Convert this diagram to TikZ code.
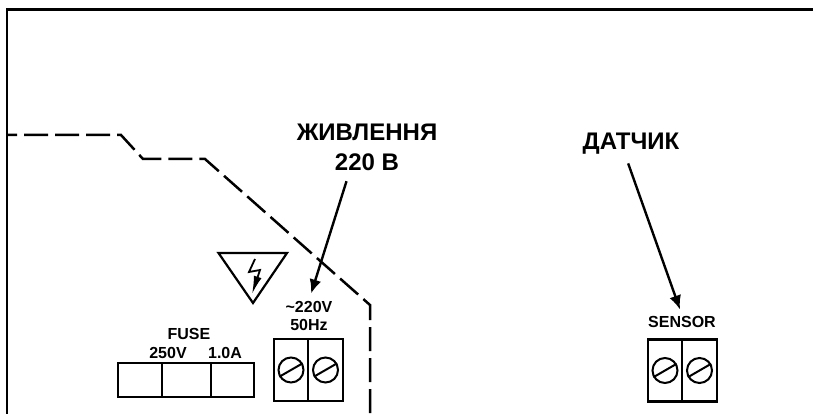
\documentclass[tikz,border=0pt]{standalone}
\usepackage{fontspec}
\setmainfont{Liberation Sans}
\usetikzlibrary{arrows.meta}
\begin{document}
\begin{tikzpicture}[x=1pt,y=-1pt,
  label node/.style={font=\bfseries\fontsize{24}{26}\selectfont,inner sep=1pt,align=center},
  small node/.style={font=\bfseries\fontsize{16}{18}\selectfont,inner sep=1pt,align=center},
  fuse cell/.style={rectangle,draw,line width=2pt,minimum height=34pt,inner sep=0pt},
  clamp cell/.style={rectangle,draw,line width=2.4pt,minimum width=34.5pt,minimum height=62pt,inner sep=0pt},
  screw node/.style={circle,draw,line width=2pt,minimum size=25pt,inner sep=0pt},
  pointer/.style={-{Latex[length=14pt,width=12pt]},line width=2.4pt}]
\useasboundingbox (0,0) rectangle (813,414);
\draw [line width=2.8pt] (813,9.5) -- (7,9.5) -- (7,414);
\draw [line width=2.5pt,dash pattern=on 24pt off 7pt,dash phase=14pt] (7,135) -- (121,135) -- (143,159) -- (205,159) -- (370,305) -- (370,414);
% warning sign
\draw [line width=2.2pt,line join=miter] (218.5,253) -- (287,253) -- (253,303) -- cycle;
\draw [line width=1.8pt,-{Latex[length=18pt,width=8pt]}] (255,259) -- (249,272) -- (260,270) -- (252,294);
% fuse holder
\node [fuse cell,minimum width=44pt](f1) at (140,380) {};
\node [fuse cell,minimum width=49pt](f2) at (186.5,380) {};
\node [fuse cell,minimum width=43pt](f3) at (232.5,380) {};
\node [small node](fuse) at (189,334) {FUSE};
\node [small node](volt) at (168,353) {250V};
\node [small node](amp) at (225,353) {1.0A};
% terminals
\node [clamp cell](m1) at (291,370) {};
\node [clamp cell](m2) at (325.5,370) {};
\node [clamp cell](s1) at (665,370.5) {};
\node [clamp cell](s2) at (699.5,370.5) {};
\foreach \c in {m1,m2,s1,s2} {
  \node [screw node](\c c) at (\c) {};
  \draw [line width=2pt] (\c c.210) -- (\c c.30);
}
\node [small node](mains) at (309,316) {\textasciitilde220V\\50Hz};
\node [small node](sensor) at (682,322) {SENSOR};
% captions
\node [label node](powera) at (367,132) {ЖИВЛЕННЯ};
\node [label node](powerb) at (367,162) {220 В};
\node [label node](probe) at (631,144) {ДАТЧИК};
\draw [pointer,shorten <=10pt,shorten >=7pt] (powerb.209) -- (mains.north);
\draw [pointer,shorten <=8pt,shorten >=6pt] (probe.245) -- (sensor.north);
\end{tikzpicture}
\end{document}
